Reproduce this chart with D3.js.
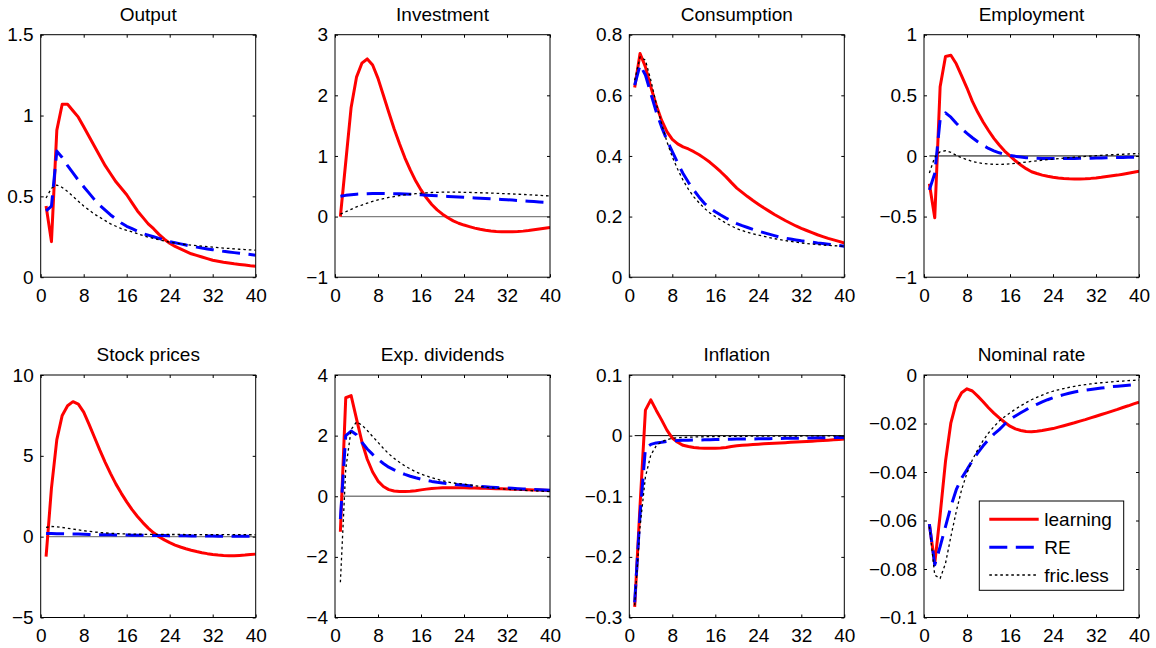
<!DOCTYPE html>
<html>
<head>
<meta charset="utf-8">
<script src="https://cdn.jsdelivr.net/npm/d3@7"></script>
<style>
  html, body { margin: 0; padding: 0; background: #ffffff; }
  svg text { font-family: "Liberation Sans", Arial, Helvetica, sans-serif; fill: #000; }
</style>
</head>
<body>
<svg id="chart" width="1156" height="648"></svg>
<script>
// Horizon (quarters after the shock)
const quarters = d3.range(1, 41);
const xTicks = [0, 8, 16, 24, 32, 40];

// Series names shown in the legend
const seriesNames = ["learning", "RE", "fric.less"];

// Panel titles
const titles = ["Output", "Investment", "Consumption", "Employment",
                "Stock prices", "Exp. dividends", "Inflation", "Nominal rate"];

// Y-axis ranges and tick values per panel
const yDomains = [[0, 1.5], [-1, 3], [0, 0.8], [-1, 1], [-5, 10], [-4, 4], [-0.3, 0.1], [-0.1, 0]];
const yTicks = [
  [0, 0.5, 1, 1.5],
  [-1, 0, 1, 2, 3],
  [0, 0.2, 0.4, 0.6, 0.8],
  [-1, -0.5, 0, 0.5, 1],
  [-5, 0, 5, 10],
  [-4, -2, 0, 2, 4],
  [-0.3, -0.2, -0.1, 0, 0.1],
  [-0.1, -0.08, -0.06, -0.04, -0.02, 0]
];
// Zero reference line per panel: null = none
const zeroLine = [null, "gray", null, "black", "gray", "gray", "black", null];

// Output
const outLearn = [0.44, 0.22, 0.91, 1.07, 1.07, 1.03, 0.99, 0.93, 0.87, 0.81, 0.75, 0.69, 0.64, 0.59, 0.55, 0.51, 0.46, 0.41, 0.37, 0.33, 0.30, 0.265, 0.235, 0.21, 0.19, 0.175, 0.16, 0.145, 0.135, 0.125, 0.115, 0.105, 0.099, 0.093, 0.088, 0.083, 0.079, 0.075, 0.071, 0.068];
const outRE = [0.41, 0.44, 0.78, 0.74, 0.69, 0.645, 0.60, 0.56, 0.52, 0.48, 0.445, 0.415, 0.385, 0.36, 0.335, 0.315, 0.30, 0.285, 0.27, 0.26, 0.25, 0.24, 0.23, 0.22, 0.213, 0.206, 0.199, 0.192, 0.186, 0.18, 0.175, 0.17, 0.165, 0.16, 0.156, 0.152, 0.148, 0.144, 0.14, 0.136];
const outFL = [0.49, 0.55, 0.57, 0.555, 0.53, 0.50, 0.47, 0.44, 0.415, 0.39, 0.37, 0.35, 0.33, 0.315, 0.30, 0.29, 0.28, 0.27, 0.258, 0.248, 0.24, 0.232, 0.224, 0.217, 0.212, 0.207, 0.202, 0.198, 0.195, 0.192, 0.189, 0.186, 0.183, 0.18, 0.178, 0.175, 0.173, 0.171, 0.169, 0.167];

// Investment
const invLearn = [0.0, 0.9, 1.8, 2.3, 2.53, 2.6, 2.5, 2.28, 2.0, 1.72, 1.45, 1.2, 0.97, 0.77, 0.59, 0.44, 0.31, 0.2, 0.11, 0.04, -0.02, -0.07, -0.11, -0.14, -0.165, -0.19, -0.21, -0.225, -0.237, -0.245, -0.25, -0.252, -0.25, -0.247, -0.24, -0.23, -0.218, -0.205, -0.193, -0.18];
const invRE = [0.335, 0.35, 0.36, 0.37, 0.375, 0.378, 0.38, 0.381, 0.381, 0.38, 0.378, 0.375, 0.372, 0.368, 0.363, 0.358, 0.353, 0.348, 0.343, 0.338, 0.333, 0.328, 0.323, 0.318, 0.313, 0.308, 0.303, 0.298, 0.293, 0.288, 0.283, 0.278, 0.272, 0.266, 0.26, 0.254, 0.248, 0.242, 0.236, 0.23];
const invFL = [0.04, 0.08, 0.12, 0.16, 0.19, 0.22, 0.25, 0.275, 0.295, 0.315, 0.33, 0.345, 0.357, 0.368, 0.378, 0.386, 0.392, 0.397, 0.40, 0.402, 0.403, 0.403, 0.402, 0.40, 0.398, 0.396, 0.393, 0.39, 0.387, 0.384, 0.38, 0.377, 0.373, 0.369, 0.365, 0.36, 0.355, 0.35, 0.345, 0.34];

// Consumption
const conLearn = [0.626, 0.738, 0.694, 0.628, 0.568, 0.518, 0.48, 0.455, 0.44, 0.43, 0.423, 0.414, 0.404, 0.392, 0.379, 0.364, 0.348, 0.331, 0.312, 0.294, 0.28, 0.266, 0.253, 0.241, 0.229, 0.218, 0.207, 0.197, 0.187, 0.178, 0.169, 0.161, 0.154, 0.147, 0.14, 0.134, 0.128, 0.123, 0.118, 0.113];
const conRE = [0.634, 0.70, 0.667, 0.606, 0.546, 0.496, 0.452, 0.414, 0.377, 0.342, 0.313, 0.287, 0.264, 0.243, 0.228, 0.216, 0.205, 0.195, 0.186, 0.177, 0.17, 0.164, 0.158, 0.152, 0.147, 0.142, 0.137, 0.132, 0.129, 0.126, 0.123, 0.12, 0.118, 0.116, 0.113, 0.111, 0.109, 0.107, 0.105, 0.102];
const conFL = [0.65, 0.727, 0.716, 0.65, 0.573, 0.507, 0.447, 0.397, 0.356, 0.32, 0.29, 0.265, 0.245, 0.227, 0.212, 0.2, 0.189, 0.178, 0.169, 0.16, 0.154, 0.148, 0.143, 0.139, 0.135, 0.131, 0.127, 0.124, 0.121, 0.118, 0.116, 0.113, 0.111, 0.109, 0.108, 0.106, 0.105, 0.104, 0.103, 0.102];

// Employment
const empLearn = [-0.23, -0.51, 0.57, 0.82, 0.83, 0.76, 0.66, 0.56, 0.45, 0.36, 0.28, 0.21, 0.145, 0.09, 0.04, 0.0, -0.04, -0.075, -0.105, -0.13, -0.145, -0.158, -0.168, -0.176, -0.182, -0.186, -0.189, -0.19, -0.19, -0.188, -0.185, -0.181, -0.176, -0.17, -0.164, -0.158, -0.151, -0.143, -0.134, -0.125];
const empRE = [-0.28, -0.145, 0.3, 0.355, 0.32, 0.27, 0.225, 0.186, 0.15, 0.117, 0.088, 0.062, 0.042, 0.026, 0.013, 0.004, -0.003, -0.009, -0.014, -0.017, -0.019, -0.021, -0.022, -0.022, -0.022, -0.022, -0.021, -0.021, -0.02, -0.019, -0.018, -0.017, -0.016, -0.015, -0.014, -0.013, -0.012, -0.011, -0.011, -0.01];
const empFL = [-0.14, -0.01, 0.035, 0.043, 0.03, 0.005, -0.015, -0.03, -0.045, -0.055, -0.062, -0.067, -0.069, -0.07, -0.068, -0.065, -0.061, -0.056, -0.051, -0.045, -0.04, -0.035, -0.03, -0.026, -0.022, -0.018, -0.014, -0.01, -0.007, -0.004, -0.001, 0.002, 0.005, 0.008, 0.01, 0.012, 0.014, 0.016, 0.018, 0.02];

// Stock prices
const spLearn = [-1.24, 3.0, 6.0, 7.5, 8.1, 8.35, 8.2, 7.7, 6.95, 6.15, 5.35, 4.6, 3.9, 3.25, 2.68, 2.15, 1.67, 1.25, 0.87, 0.53, 0.24, 0.0, -0.2, -0.37, -0.52, -0.64, -0.75, -0.84, -0.92, -0.99, -1.05, -1.1, -1.14, -1.17, -1.18, -1.18, -1.16, -1.14, -1.11, -1.08];
const spRE = [0.2, 0.19, 0.18, 0.175, 0.17, 0.165, 0.16, 0.15, 0.14, 0.13, 0.125, 0.12, 0.115, 0.11, 0.105, 0.1, 0.095, 0.09, 0.085, 0.08, 0.075, 0.07, 0.066, 0.062, 0.058, 0.054, 0.05, 0.047, 0.044, 0.041, 0.038, 0.035, 0.032, 0.03, 0.028, 0.026, 0.024, 0.022, 0.02, 0.018];
const spFL = [0.57, 0.63, 0.61, 0.57, 0.52, 0.47, 0.42, 0.37, 0.33, 0.29, 0.26, 0.23, 0.21, 0.19, 0.175, 0.165, 0.158, 0.152, 0.148, 0.145, 0.142, 0.14, 0.138, 0.136, 0.134, 0.133, 0.132, 0.131, 0.13, 0.129, 0.128, 0.127, 0.126, 0.125, 0.124, 0.123, 0.122, 0.121, 0.12, 0.12];

// Expected dividends
const edLearn = [-1.17, 3.25, 3.32, 2.55, 1.8, 1.22, 0.8, 0.5, 0.32, 0.22, 0.175, 0.155, 0.155, 0.165, 0.185, 0.21, 0.235, 0.255, 0.268, 0.277, 0.28, 0.28, 0.279, 0.277, 0.274, 0.27, 0.265, 0.26, 0.255, 0.25, 0.245, 0.24, 0.234, 0.228, 0.222, 0.216, 0.21, 0.204, 0.197, 0.19];
const edRE = [-0.75, 2.0, 2.15, 2.03, 1.78, 1.56, 1.38, 1.22, 1.08, 0.96, 0.87, 0.79, 0.72, 0.66, 0.61, 0.565, 0.525, 0.49, 0.46, 0.435, 0.415, 0.395, 0.378, 0.362, 0.348, 0.335, 0.322, 0.31, 0.3, 0.29, 0.28, 0.27, 0.26, 0.25, 0.241, 0.232, 0.223, 0.214, 0.205, 0.196];
const edFL = [-2.84, 0.9, 2.2, 2.45, 2.35, 2.17, 1.97, 1.78, 1.58, 1.4, 1.25, 1.12, 1.0, 0.9, 0.81, 0.73, 0.67, 0.61, 0.56, 0.51, 0.47, 0.44, 0.42, 0.4, 0.375, 0.35, 0.325, 0.3, 0.28, 0.263, 0.246, 0.23, 0.218, 0.207, 0.197, 0.188, 0.18, 0.172, 0.163, 0.155];

// Inflation
const infLearn = [-0.2825, -0.115, 0.042, 0.059, 0.042, 0.026, 0.009, -0.004, -0.011, -0.016, -0.018, -0.0195, -0.0205, -0.021, -0.021, -0.021, -0.0205, -0.0195, -0.018, -0.0168, -0.016, -0.0153, -0.0147, -0.0141, -0.0136, -0.0131, -0.0126, -0.0121, -0.0116, -0.0111, -0.0106, -0.0101, -0.0096, -0.0091, -0.0086, -0.0081, -0.0075, -0.0069, -0.0062, -0.0055];
const infRE = [-0.275, -0.13, -0.021, -0.0145, -0.012, -0.011, -0.0095, -0.0085, -0.008, -0.0077, -0.0075, -0.0073, -0.0071, -0.0069, -0.0067, -0.0065, -0.0063, -0.0061, -0.0059, -0.0057, -0.0056, -0.0055, -0.0054, -0.0053, -0.0051, -0.005, -0.0048, -0.0047, -0.0045, -0.0044, -0.0042, -0.0041, -0.0039, -0.0038, -0.0036, -0.0035, -0.0034, -0.0032, -0.0031, -0.003];
const infFL = [-0.28, -0.15, -0.068, -0.032, -0.017, -0.01, -0.0065, -0.0045, -0.0035, -0.003, -0.0026, -0.0023, -0.002, -0.0018, -0.0016, -0.0015, -0.0014, -0.0013, -0.0012, -0.0011, -0.001, -0.001, -0.0009, -0.0009, -0.0008, -0.0008, -0.0007, -0.0007, -0.0007, -0.0006, -0.0006, -0.0006, -0.0005, -0.0005, -0.0005, -0.0005, -0.0005, -0.0005, -0.0005, -0.0005];

// Nominal interest rate
const nrLearn = [-0.0615, -0.0777, -0.0577, -0.0356, -0.0197, -0.0114, -0.0073, -0.0057, -0.0066, -0.0087, -0.011, -0.0135, -0.0157, -0.0177, -0.0195, -0.0211, -0.0222, -0.0229, -0.0233, -0.0234, -0.0232, -0.0229, -0.0225, -0.0221, -0.0215, -0.0209, -0.0203, -0.0197, -0.019, -0.0184, -0.0177, -0.017, -0.0163, -0.0156, -0.0149, -0.0142, -0.0134, -0.0127, -0.0119, -0.0112];
const nrRE = [-0.0615, -0.0783, -0.0708, -0.0625, -0.0542, -0.0473, -0.0425, -0.039, -0.0353, -0.0321, -0.0292, -0.0266, -0.0244, -0.0225, -0.0203, -0.0183, -0.0169, -0.0156, -0.0143, -0.0131, -0.0121, -0.0111, -0.0102, -0.0094, -0.0087, -0.0081, -0.0075, -0.007, -0.0066, -0.0063, -0.006, -0.0057, -0.0054, -0.0051, -0.0048, -0.0046, -0.0044, -0.0042, -0.004, -0.0039];
const nrFL = [-0.0625, -0.0825, -0.0839, -0.0777, -0.0666, -0.0563, -0.0473, -0.0404, -0.035, -0.0308, -0.027, -0.0239, -0.0213, -0.019, -0.0172, -0.0156, -0.0141, -0.0127, -0.0114, -0.0102, -0.0092, -0.0083, -0.0074, -0.0067, -0.0061, -0.0056, -0.0051, -0.0047, -0.0043, -0.004, -0.0037, -0.0034, -0.0032, -0.003, -0.0028, -0.0026, -0.0025, -0.0023, -0.0022, -0.0021];

const panelSeries = [
  [outLearn, outRE, outFL],
  [invLearn, invRE, invFL],
  [conLearn, conRE, conFL],
  [empLearn, empRE, empFL],
  [spLearn, spRE, spFL],
  [edLearn, edRE, edFL],
  [infLearn, infRE, infFL],
  [nrLearn, nrRE, nrFL]
];

// Line styles: learning, RE, frictionless
const styles = [
  { color: "#ff0000", width: 3, dash: null },
  { color: "#0000ff", width: 3, dash: "18,8.5" },
  { color: "#000000", width: 1.3, dash: "2.6,2.9" }
];

// Grid geometry
const colLeft = [40.7, 335, 629.3, 924];
const rowTop = [34.7, 375];
const panelW = 215;
const panelH = 242.5;
const fontSize = 19;
const tickLen = 3;

const svg = d3.select("#chart");
svg.append("rect").attr("width", 1156).attr("height", 648).attr("fill", "#fff");

const fmt = d3.format("~g");

titles.forEach((title, i) => {
  const x0 = colLeft[i % 4];
  const y0 = rowTop[Math.floor(i / 4)];
  const x = d3.scaleLinear().domain([0, 40]).range([x0, x0 + panelW]);
  const y = d3.scaleLinear().domain(yDomains[i]).range([y0 + panelH, y0]);

  const g = svg.append("g");

  const clipId = "clip" + i;
  svg.append("defs").append("clipPath").attr("id", clipId)
    .append("rect").attr("x", x0).attr("y", y0).attr("width", panelW).attr("height", panelH);

  const plot = g.append("g").attr("clip-path", `url(#${clipId})`);

  if (zeroLine[i]) {
    plot.append("line")
      .attr("x1", x(1)).attr("x2", x(40))
      .attr("y1", y(0)).attr("y2", y(0))
      .attr("stroke", zeroLine[i] === "gray" ? "#808080" : "#000")
      .attr("stroke-width", zeroLine[i] === "gray" ? 1.3 : 1);
  }

  const line = d3.line().x((d, k) => x(quarters[k])).y(d => y(d));
  panelSeries[i].forEach((vals, s) => {
    const st = styles[s];
    plot.append("path")
      .datum(vals)
      .attr("d", line)
      .attr("fill", "none")
      .attr("stroke", st.color)
      .attr("stroke-width", st.width)
      .attr("stroke-linejoin", "round")
      .attr("stroke-dasharray", st.dash);
  });

  // Axes with inward ticks on all four sides
  const bottom = g.append("g").attr("transform", `translate(0,${y0 + panelH})`)
    .call(d3.axisBottom(x).tickValues(xTicks).tickSize(-tickLen).tickPadding(11).tickFormat(fmt));
  const top = g.append("g").attr("transform", `translate(0,${y0})`)
    .call(d3.axisTop(x).tickValues(xTicks).tickSize(-tickLen).tickFormat(""));
  const left = g.append("g").attr("transform", `translate(${x0},0)`)
    .call(d3.axisLeft(y).tickValues(yTicks[i]).tickSize(-tickLen).tickPadding(7).tickFormat(fmt));
  const right = g.append("g").attr("transform", `translate(${x0 + panelW},0)`)
    .call(d3.axisRight(y).tickValues(yTicks[i]).tickSize(-tickLen).tickFormat(""));

  [bottom, top, left, right].forEach(a => {
    a.select(".domain").remove();
    a.selectAll("line").attr("stroke", "#000").attr("stroke-width", 1);
    a.selectAll("text").attr("font-size", fontSize)
      .attr("font-family", "'Liberation Sans', Arial, sans-serif").attr("fill", "#000");
  });

  g.append("rect")
    .attr("x", x0).attr("y", y0).attr("width", panelW).attr("height", panelH)
    .attr("fill", "none").attr("stroke", "#000").attr("stroke-width", 1);

  g.append("text")
    .attr("x", x0 + panelW / 2).attr("y", y0 - 14)
    .attr("text-anchor", "middle")
    .attr("font-size", fontSize)
    .text(title);
});

// Legend inside the nominal-rate panel
const legend = svg.append("g");
legend.append("rect")
  .attr("x", 979.3).attr("y", 501).attr("width", 144.4).attr("height", 89.3)
  .attr("fill", "#fff").attr("stroke", "#000").attr("stroke-width", 1);
const rowY = [519.3, 547.3, 575];
seriesNames.forEach((name, s) => {
  const st = styles[s];
  legend.append("line")
    .attr("x1", 989.3).attr("x2", 1038.7)
    .attr("y1", rowY[s]).attr("y2", rowY[s])
    .attr("stroke", st.color).attr("stroke-width", st.width)
    .attr("stroke-dasharray", st.dash);
  legend.append("text")
    .attr("x", 1044.3).attr("y", rowY[s]).attr("dy", "0.35em")
    .attr("font-size", fontSize)
    .text(name);
});
</script>
</body>
</html>
